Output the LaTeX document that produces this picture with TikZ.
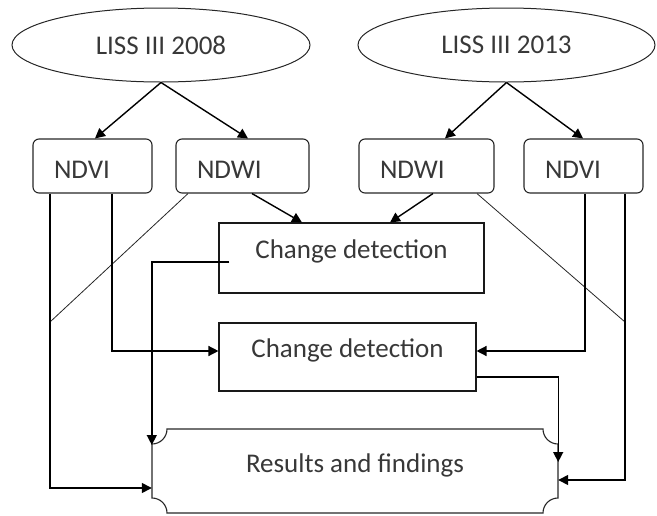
\documentclass[tikz,border=0pt]{standalone}
\usepackage{fontspec}
\setmainfont{Carlito}
\usetikzlibrary{arrows.meta,shapes.geometric}
\begin{document}
\begin{tikzpicture}[x=1pt,y=-1pt,
  every node/.style={text=black!78, font=\fontsize{27}{30}\selectfont},
  src/.style={ellipse, draw=black!85, line width=1pt, minimum height=74, inner sep=0},
  ndbox/.style={rectangle, rounded corners=6pt, draw=black!85, line width=1.1pt,
    minimum height=54, inner xsep=21, inner ysep=0, align=left, text height=25, text depth=0},
  cdbox/.style={rectangle, draw=black!90, line width=1.1pt, inner sep=0,
    text height=20, text depth=20},
  arr/.style={-{Triangle[length=10pt,width=10pt]}, line width=1.4pt, draw=black},
  thin/.style={line width=0.8pt, draw=black!85}
]
\useasboundingbox (0,0) rectangle (657,515);

% sources
\node[src, minimum width=298] (l08) at (161,45) {LISS III 2008};
\node[src, minimum width=297] (l13) at (506.5,45) {LISS III 2013};

% index boxes
\node[ndbox, text width=77] (ndvi1) at (92.5,166) {NDVI};
\node[ndbox, text width=91] (ndwi1) at (242.5,166) {NDWI};
\node[ndbox, text width=93] (ndwi2) at (426.5,166) {NDWI};
\node[ndbox, text width=77] (ndvi2) at (583.5,166) {NDVI};

% change detection
\node[cdbox, minimum width=265, minimum height=70] (cd1) at (351.5,258) {Change detection};
\node[cdbox, minimum width=257, minimum height=68] (cd2) at (347.5,357) {Change detection};

% results plaque
\node[rectangle, inner sep=0, minimum width=406, minimum height=84, text height=20, text depth=18] (res) at (355,471) {Results and findings};
\draw[draw=black!85, line width=1.1pt]
  (167,429) -- (543,429) .. controls (543,437.3) and (549.7,444) .. (558,444)
  -- (558,498) .. controls (549.7,498) and (543,504.7) .. (543,513)
  -- (167,513) .. controls (167,504.7) and (160.3,498) .. (152,498)
  -- (152,444) .. controls (160.3,444) and (167,437.3) .. (167,429) -- cycle;

% from sources
\draw[arr] (l08.south) -- (ndvi1.north -| 95,0);
\draw[arr] (l08.south) -- (ndwi1.north -| 248,0);
\draw[arr] (l13.south) -- (ndwi2.north -| 445,0);
\draw[arr] (l13.south) -- (ndvi2.north -| 583,0);

% NDWI to change detection 1
\draw[arr] (ndwi1.south -| 252,0) -- (cd1.north -| 302,0);
\draw[arr] (ndwi2.south -| 433,0) -- (cd1.north -| 390,0);

% thin diagonals
\coordinate (dl) at (50,322);
\coordinate (dr) at (625,322);
\draw[thin] (ndwi1.south -| 188,0) -- (dl);
\draw[thin] (ndwi2.south -| 477,0) -- (dr);

% NDVI to change detection 2
\draw[arr] (ndvi1.south -| 112,0) |- (cd2.west |- 0,351);
\draw[arr] (ndvi2.south -| 585,0) |- (cd2.east |- 0,351);

% NDVI to results
\draw[arr] (ndvi1.south -| 50,0) |- (res.west |- 0,488);
\draw[arr] (ndvi2.south -| 625,0) |- (res.east |- 0,480);

% change detections to results
\draw[arr] ([xshift=11pt]cd1.west |- 0,262) -| (res.west |- 0,445);
\draw[arr] (cd2.east |- 0,377) -| (res.east |- 0,462);
\end{tikzpicture}
\end{document}
